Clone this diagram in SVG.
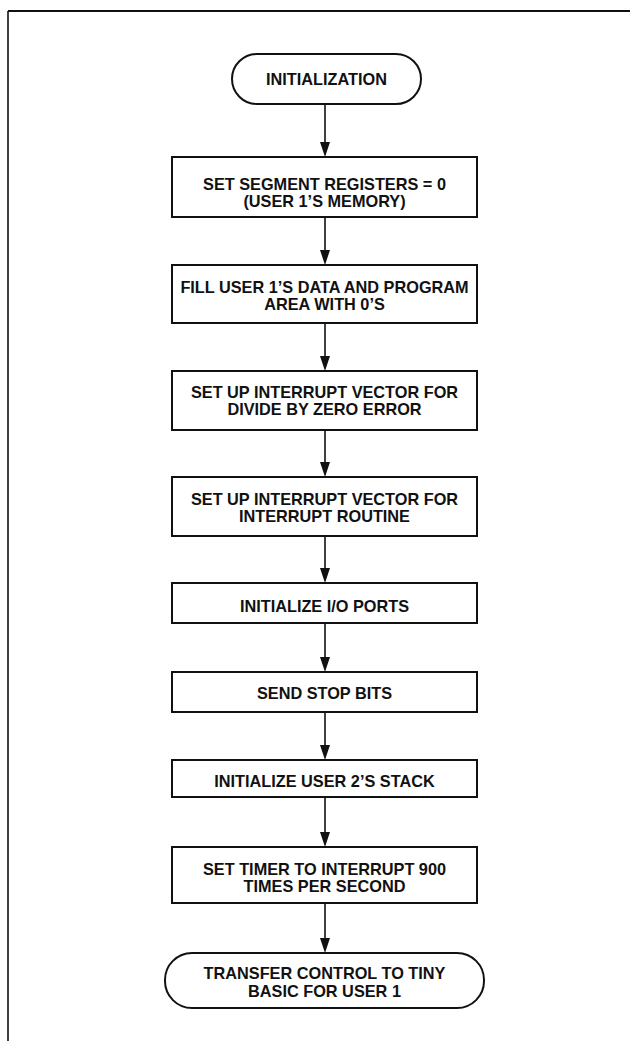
<svg xmlns="http://www.w3.org/2000/svg" width="630" height="1041" viewBox="0 0 630 1041">
<defs>
<style>
.box{fill:#fff;stroke:#111;stroke-width:2}
.t{font-family:"Liberation Sans",Arial,sans-serif;font-weight:bold;font-size:16.3px;fill:#111;text-anchor:middle}
.c{stroke:#111;stroke-width:1.6;fill:none}
.frame{stroke:#111;fill:none}
.ah{fill:#111}
</style>
</defs>
<rect width="630" height="1041" fill="#fff"/>
<g id="frame">
<line class="frame" x1="8" y1="11" x2="630" y2="11" stroke-width="2"/>
<line class="frame" x1="8" y1="11" x2="8" y2="1041" stroke-width="1.6"/>
</g>
<g id="connectors">
<path class="c" d="M325,104 V142"/><path class="ah" d="M320,142 L330,142 L325,157 Z"/>
<path class="c" d="M325,217 V250"/><path class="ah" d="M320,250 L330,250 L325,265 Z"/>
<path class="c" d="M325,323 V356"/><path class="ah" d="M320,356 L330,356 L325,371 Z"/>
<path class="c" d="M325,430 V462"/><path class="ah" d="M320,462 L330,462 L325,477 Z"/>
<path class="c" d="M325,536 V568"/><path class="ah" d="M320,568 L330,568 L325,583 Z"/>
<path class="c" d="M325,623 V657"/><path class="ah" d="M320,657 L330,657 L325,672 Z"/>
<path class="c" d="M325,712 V745"/><path class="ah" d="M320,745 L330,745 L325,760 Z"/>
<path class="c" d="M325,797 V832"/><path class="ah" d="M320,832 L330,832 L325,847 Z"/>
<path class="c" d="M325,903 V938"/><path class="ah" d="M320,938 L330,938 L325,953 Z"/>
</g>
<g id="start">
<rect class="box" x="232" y="54" width="189" height="50" rx="25" ry="25"/>
<text class="t" x="326.5" y="85">INITIALIZATION</text>
</g>
<g id="n1">
<rect class="box" x="172" y="157" width="305" height="60"/>
<text class="t" x="324.5" y="190">SET SEGMENT REGISTERS = 0</text>
<text class="t" x="324.5" y="206.5">(USER 1’S MEMORY)</text>
</g>
<g id="n2">
<rect class="box" x="172" y="265" width="305" height="58"/>
<text class="t" x="324.5" y="293">FILL USER 1’S DATA AND PROGRAM</text>
<text class="t" x="324.5" y="309.5">AREA WITH 0’S</text>
</g>
<g id="n3">
<rect class="box" x="172" y="371" width="305" height="59"/>
<text class="t" x="324.5" y="398">SET UP INTERRUPT VECTOR FOR</text>
<text class="t" x="324.5" y="414.5">DIVIDE BY ZERO ERROR</text>
</g>
<g id="n4">
<rect class="box" x="172" y="477" width="305" height="59"/>
<text class="t" x="324.5" y="505">SET UP INTERRUPT VECTOR FOR</text>
<text class="t" x="324.5" y="521.5">INTERRUPT ROUTINE</text>
</g>
<g id="n5">
<rect class="box" x="172" y="583" width="305" height="40"/>
<text class="t" x="324.5" y="611.5">INITIALIZE I/O PORTS</text>
</g>
<g id="n6">
<rect class="box" x="172" y="672" width="305" height="40"/>
<text class="t" x="324.5" y="699">SEND STOP BITS</text>
</g>
<g id="n7">
<rect class="box" x="172" y="760" width="305" height="37"/>
<text class="t" x="324.5" y="787">INITIALIZE USER 2’S STACK</text>
</g>
<g id="n8">
<rect class="box" x="172" y="847" width="305" height="56"/>
<text class="t" x="324.5" y="875">SET TIMER TO INTERRUPT 900</text>
<text class="t" x="324.5" y="891.5">TIMES PER SECOND</text>
</g>
<g id="end">
<rect class="box" x="165" y="953" width="319" height="55" rx="27" ry="27"/>
<text class="t" x="324.5" y="979">TRANSFER CONTROL TO TINY</text>
<text class="t" x="324.5" y="997">BASIC FOR USER 1</text>
</g>
</svg>
